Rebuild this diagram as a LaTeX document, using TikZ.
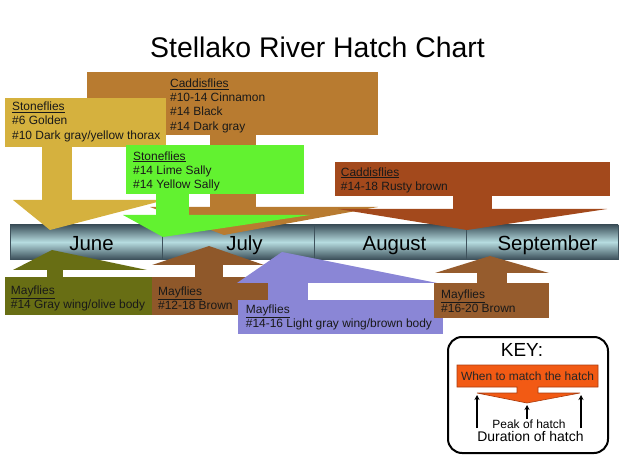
\documentclass[tikz,border=0pt]{standalone}
\usepackage{fontspec}
\setmainfont{Liberation Sans}
\usetikzlibrary{arrows.meta}
\definecolor{caddis}{RGB}{184,123,48}
\definecolor{rusty}{RGB}{163,73,28}
\definecolor{golden}{RGB}{213,177,62}
\definecolor{lime}{RGB}{98,242,48}
\definecolor{olive}{RGB}{104,110,20}
\definecolor{mbrown}{RGB}{143,88,42}
\definecolor{lilac}{RGB}{138,134,214}
\definecolor{rbrown}{RGB}{150,92,45}
\definecolor{keyorange}{RGB}{242,90,20}
\definecolor{keyedge}{RGB}{170,60,15}
\definecolor{bardark}{RGB}{62,82,92}
\definecolor{barlight}{RGB}{182,220,224}
\def\hatcharrow[#1](#2)(#3)(#4)(#5)(#6)(#7)(#8){\fill[#1] (#2) rectangle (#3); \fill[#1] (#4) rectangle (#5); \fill[#1] (#6) -- (#8) -- (#7) -- cycle;}
\tikzset{
  hatchtext/.style={anchor=north west, inner sep=0pt, align=left, text=black!90, font=\fontsize{12}{14.3}\selectfont},
  month/.style={anchor=base, inner sep=0pt, font=\fontsize{20.5}{24}\selectfont},
  keyarrow/.style={-{Stealth[length=5bp,width=5bp]}, line width=1.4bp},
}
\begin{document}
\begin{tikzpicture}[x=1bp,y=-1bp]
		%%%%% START %%%%%
		\useasboundingbox (0,0) rectangle (628,471);
		
		\node[anchor=base, inner sep=0pt, font=\fontsize{28.5}{32}\selectfont] (title) at (317.5,57.5) {Stellako River Hatch Chart};
		
		\shade[top color=bardark, bottom color=bardark, middle color=barlight] (10,225) rectangle (618,259);
		\draw[bardark, line width=0.8bp] (10,225) rectangle (618,259);
		\foreach \x in {162,314,466} \draw[bardark, line width=0.8bp] (\x,225) -- (\x,259);
		
		\hatcharrow[caddis](87,72)(378,135)(210,134)(256,208)(150,207)(378,207)(224,235)
		\hatcharrow[rusty](335,162)(610,196)(453,195)(492,210)(338,209)(607,209)(467,230)
		\hatcharrow[golden](5,98)(166,147)(42,146)(72,201)(13,200)(165,200)(50,230)
		\hatcharrow[lime](126,145)(304,194)(156,193)(189,216)(123,215)(310,215)(163,237)
		
		\hatcharrow[olive](5,277)(152,315)(47,278)(63,269)(13,270)(147,270)(52,250)
		\hatcharrow[mbrown](152,277)(268,315)(195,278)(223,264)(152,265)(264,265)(209,246)
		\hatcharrow[lilac](238,300)(443,334)(268,301)(308,282)(237,283)(437,283)(282,252)
		\hatcharrow[rbrown](434,283)(549,318)(477,284)(507,272)(435,273)(549,273)(490,256)
		
		\node[hatchtext] (caddis1) at (170,78.6) {\underline{Caddisflies}\\\#10-14 Cinnamon\\\#14 Black\\\#14 Dark gray};
		\node[hatchtext] (rusty1) at (340.7,167.3) {\underline{Caddisflies}\\\#14-18 Rusty brown};
		\node[hatchtext] (stone1) at (12,101.8) {\underline{Stoneflies}\\\#6 Golden\\\#10 Dark gray/yellow thorax};
		\node[hatchtext] (stone2) at (133,151.3) {\underline{Stoneflies}\\\#14 Lime Sally\\\#14 Yellow Sally};
		\node[hatchtext] (may1) at (10.7,285.3) {\underline{Mayflies}\\\#14 Gray wing/olive body};
		\node[hatchtext] (may2) at (158,286.3) {\underline{Mayflies}\\\#12-18 Brown};
		\node[hatchtext] (may3) at (245.7,304.6) {\underline{Mayflies}\\\#14-16 Light gray wing/brown body};
		\node[hatchtext] (may4) at (441,289.6) {\underline{Mayflies}\\\#16-20 Brown};
		
		\node[month] (june) at (91.5,250.5) {June};
		\node[month] (july) at (244.5,250.5) {July};
		\node[month] (august) at (394.5,250.5) {August};
		\node[month] (september) at (547.5,250.5) {September};
		
		% key
		\draw[line width=2bp, rounded corners=14bp] (448,337) rectangle (608,453);
		\node[anchor=base, inner sep=0pt, font=\fontsize{19}{22}\selectfont] (key) at (522,356.7) {KEY:};
		\filldraw[fill=keyorange, draw=keyedge, line width=0.6bp] (457,365) -- (598,365) -- (598,387) -- (538,387) -- (538,393) -- (580,393) -- (527,403) -- (477,393) -- (517,393) -- (517,387) -- (457,387) -- cycle;
		\node[anchor=base, inner sep=0pt, text=black!85, font=\fontsize{12}{14}\selectfont] (when) at (527.5,380) {When to match the hatch};
		\coordinate (startL) at (477,428);
		\coordinate (endL) at (477,395);
		\coordinate (startP) at (527,419);
		\coordinate (endP) at (527,405);
		\coordinate (startR) at (581,428);
		\coordinate (endR) at (581,395);
		\draw[keyarrow] (startL) -- (endL);
		\draw[keyarrow] (startP) -- (endP);
		\draw[keyarrow] (startR) -- (endR);
		\node[anchor=base, inner sep=0pt, font=\fontsize{12}{14}\selectfont] (peak) at (529,428.3) {Peak of hatch};
		\node[anchor=base, inner sep=0pt, font=\fontsize{14}{16}\selectfont] (duration) at (530.5,441.7) {Duration of hatch};
		
		%%%%% END %%%%%
	\end{tikzpicture}
\end{document}
